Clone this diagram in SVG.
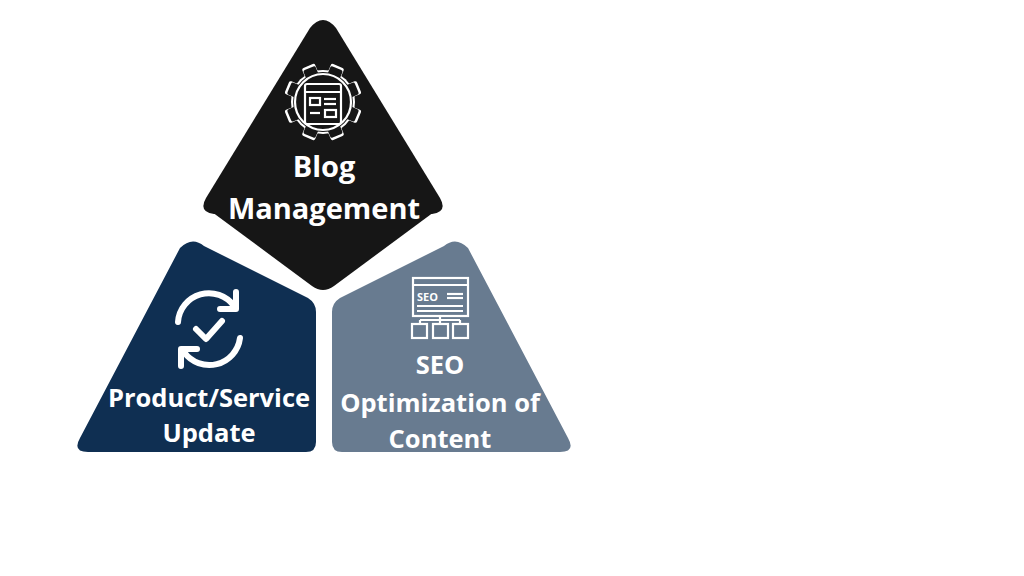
<svg xmlns="http://www.w3.org/2000/svg" width="1024" height="576" viewBox="0 0 1024 576">
<style>
.t{font-family:"Open Sans","Noto Sans",sans-serif;font-weight:700;fill:#fff;text-anchor:middle}
.ic{fill:none;stroke:#fff;stroke-width:6;stroke-linecap:round;stroke-linejoin:round}
.ic2{fill:none;stroke:#fff;stroke-width:2.2}
</style>
<defs>
<g id="gear">
<circle r="32"/>
<rect x="-7" y="-39" width="14" height="12" rx="2"/>
<rect x="-7" y="-39" width="14" height="12" rx="2" transform="rotate(45)"/>
<rect x="-7" y="-39" width="14" height="12" rx="2" transform="rotate(90)"/>
<rect x="-7" y="-39" width="14" height="12" rx="2" transform="rotate(135)"/>
<rect x="-7" y="-39" width="14" height="12" rx="2" transform="rotate(180)"/>
<rect x="-7" y="-39" width="14" height="12" rx="2" transform="rotate(225)"/>
<rect x="-7" y="-39" width="14" height="12" rx="2" transform="rotate(270)"/>
<rect x="-7" y="-39" width="14" height="12" rx="2" transform="rotate(315)"/>
</g>
</defs>
<rect width="1024" height="576" fill="#fff"/>
<g id="blog">
<path d="M310,28 Q323,12 336,28 L440,198 Q448,212 432,214 L214,214 Q198,212 206,198 Z" fill="#161616"/>
<path d="M212,212 L312,286 Q323,294 334,286 L434,212 Z" fill="#161616"/>
<use href="#gear" transform="translate(323,102) rotate(22.5)" fill="#fff"/>
<use href="#gear" transform="translate(323,102) rotate(22.5) scale(0.935)" fill="#161616"/>
<g class="ic2">
<circle cx="323" cy="102" r="28"/>
<rect x="305" y="84" width="36" height="40" rx="2"/>
<line x1="305" y1="92" x2="341" y2="92"/>
<rect x="310" y="98" width="10" height="7"/>
<line x1="324" y1="99" x2="336" y2="99"/><line x1="324" y1="104" x2="336" y2="104"/>
<line x1="310" y1="113" x2="320" y2="113"/>
<rect x="325" y="110" width="11" height="7"/>
</g>
<text class="t" x="324" y="177" font-size="29">Blog</text>
<text class="t" x="324" y="219" font-size="29">Management</text>
</g>
<g id="product">
<path d="M180,248 Q192,236 204,246 L308,298 Q316,303 316,312 L316,442 Q316,452 306,452 L88,452 Q72,452 80,438 Z" fill="#0f2f52"/>
<g class="ic">
<path d="M178,322 A31,31 0 0 1 234,306"/>
<path d="M236,292 L236,309 L220,309"/>
<path d="M240,338 A31,31 0 0 1 184,352"/>
<path d="M181,366 L181,349 L197,349"/>
<path d="M196,329 L206,339 L222,321"/>
</g>
<text class="t" x="209" y="407" font-size="25.5">Product/Service</text>
<text class="t" x="209" y="442" font-size="25.5">Update</text>
</g>
<g id="seo">
<path d="M444,246 Q456,236 468,248 L568,438 Q576,452 560,452 L342,452 Q332,452 332,442 L332,312 Q332,303 340,298 Z" fill="#687b90"/>
<g class="ic2">
<rect x="413" y="278" width="55" height="38"/>
<line x1="413" y1="285" x2="468" y2="285"/>
<text x="417" y="301" font-family="Open Sans,sans-serif" font-size="11" font-weight="700" fill="#fff" stroke="none">SEO</text>
<line x1="447" y1="294" x2="463" y2="294"/><line x1="447" y1="298" x2="463" y2="298"/>
<line x1="417" y1="306" x2="463" y2="306"/><line x1="417" y1="311" x2="463" y2="311"/>
<line x1="440" y1="316" x2="440" y2="324"/>
<line x1="420" y1="320" x2="460" y2="320"/>
<line x1="420" y1="320" x2="420" y2="324"/><line x1="460" y1="320" x2="460" y2="324"/>
<rect x="412" y="324" width="15" height="14"/><rect x="433" y="324" width="15" height="14"/><rect x="453" y="324" width="15" height="14"/>
</g>
<text class="t" x="440" y="374" font-size="25.5">SEO</text>
<text class="t" x="440" y="412" font-size="25.5">Optimization of</text>
<text class="t" x="440" y="448" font-size="25.5">Content</text>
</g>
<g id="connectors"/>
</svg>
